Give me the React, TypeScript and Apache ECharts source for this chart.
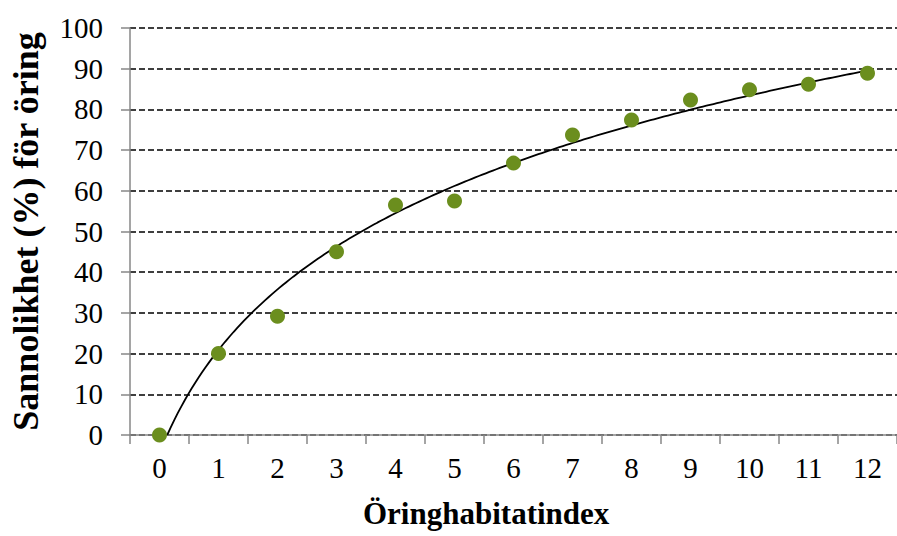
import React, { useEffect, useRef } from "react";
import * as echarts from "echarts";

const categories = ["0", "1", "2", "3", "4", "5", "6", "7", "8", "9", "10", "11", "12"];
const probability = [0, 20, 29.2, 45, 56.5, 57.5, 66.8, 73.7, 77.4, 82.3, 84.8, 86.2, 88.9];
const yTicks = { min: 0, max: 100, interval: 10 };
const xTitle = "Öringhabitatindex";
const yTitle = "Sannolikhet (%) för öring";

// Logarithmic trendline (least squares on Excel-style x = index + 1)
function logFit(values: number[]) {
  const n = values.length;
  const L = values.map((_, i) => Math.log(i + 1));
  const mL = L.reduce((s, v) => s + v, 0) / n;
  const mY = values.reduce((s, v) => s + v, 0) / n;
  let sxx = 0, sxy = 0;
  for (let i = 0; i < n; i++) {
    sxx += (L[i] - mL) ** 2;
    sxy += (L[i] - mL) * (values[i] - mY);
  }
  const a = sxy / sxx;
  const b = mY - a * mL;
  return { a, b };
}

const FONT = "Liberation Serif";

export default function App() {
  const ref = useRef<HTMLDivElement>(null);
  useEffect(() => {
    if (!ref.current) return;
    const chart = echarts.init(ref.current, undefined, { renderer: "svg" });
    const { a, b } = logFit(probability);
    const start = Math.exp(-b / a) - 1;
    const last = categories.length - 1;
    const trend: number[][] = [];
    const steps = 200;
    for (let k = 0; k <= steps; k++) {
      const t = start + ((last - start) * k) / steps;
      trend.push([t, a * Math.log(t + 1) + b]);
    }
    chart.setOption({
      animation: false,
      textStyle: { fontFamily: FONT },
      grid: { left: 129, width: 773, top: 28, height: 407, containLabel: false },
      xAxis: [
        {
          type: "category",
          data: categories,
          boundaryGap: true,
          axisLine: { show: true, onZero: false, lineStyle: { color: "#878787", width: 1.5 } },
          axisTick: { show: true, length: 9, lineStyle: { color: "#878787", width: 1.5 } },
          axisLabel: { fontSize: 29, fontFamily: FONT, color: "#000", margin: 18 },
          splitLine: { show: false },
        },
        {
          type: "value",
          min: -0.5,
          max: last + 0.5,
          show: false,
          axisLine: { show: false, onZero: false },
          splitLine: { show: false },
        },
      ],
      yAxis: {
        type: "value",
        min: yTicks.min,
        max: yTicks.max,
        interval: yTicks.interval,
        name: yTitle,
        nameLocation: "middle",
        nameGap: 86,
        nameTextStyle: { fontSize: 36, fontWeight: "bold", fontFamily: FONT, color: "#000" },
        axisLine: { show: true, onZero: false, lineStyle: { color: "#878787", width: 1.5 } },
        axisTick: { show: true, length: 9, lineStyle: { color: "#878787", width: 1.5 } },
        axisLabel: { fontSize: 29, fontFamily: FONT, color: "#000", margin: 27 },
        splitLine: { show: true, lineStyle: { color: "#000", type: [6, 3], width: 1.5 } },
      },
      graphic: [
        {
          type: "text",
          left: 363,
          top: 498,
          style: { text: xTitle, fontSize: 31, fontWeight: "bold", fontFamily: FONT, fill: "#000" },
        },
      ],
      series: [
        {
          type: "line",
          xAxisIndex: 1,
          data: trend,
          showSymbol: false,
          symbol: "none",
          lineStyle: { color: "#000", width: 1.8 },
          z: 2,
        },
        {
          type: "scatter",
          xAxisIndex: 0,
          data: probability,
          symbol: "circle",
          symbolSize: 15,
          itemStyle: { color: "#6B8E1E", opacity: 1 },
          z: 3,
        },
      ],
    });
    return () => chart.dispose();
  }, []);
  return (
    <div
      ref={ref}
      style={{ position: "absolute", left: 0, top: 0, width: 897, height: 536, background: "#fff" }}
    />
  );
}
